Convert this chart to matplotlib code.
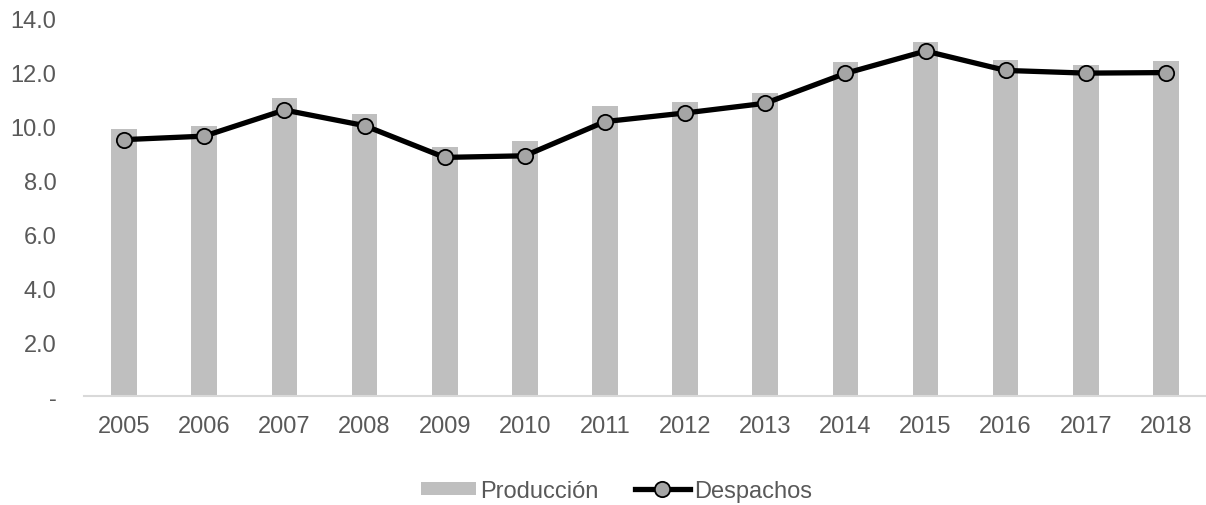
import matplotlib
matplotlib.use("Agg")
import matplotlib.pyplot as plt
from matplotlib.ticker import FuncFormatter

years = ["2005", "2006", "2007", "2008", "2009", "2010", "2011",
         "2012", "2013", "2014", "2015", "2016", "2017", "2018"]
produccion = [9.91, 10.03, 11.07, 10.46, 9.25, 9.48, 10.78,
              10.92, 11.24, 12.39, 13.16, 12.49, 12.30, 12.45]
despachos = [9.52, 9.65, 10.62, 10.04, 8.86, 8.92, 10.19,
             10.51, 10.87, 11.98, 12.81, 12.09, 11.99, 12.01]

plt.rcParams["font.family"] = ["Liberation Sans", "DejaVu Sans"]
text_color = "#595959"

fig = plt.figure(figsize=(12.06, 5.06), dpi=100)
ax = fig.add_axes([0.0697, 0.2154, 0.9303, 0.7451])

x = list(range(len(years)))
bars = ax.bar(x, produccion, width=0.32, color="#BFBFBF", label="Producción", zorder=2)
line, = ax.plot(x, despachos, color="black", linewidth=3.8, marker="o",
                markersize=11, markerfacecolor="#A5A5A5", markeredgecolor="black",
                markeredgewidth=1.3, label="Despachos", zorder=3)

ax.set_xlim(-0.5, len(years) - 0.5)
ax.set_ylim(0, 14)
ax.set_yticks([0, 2, 4, 6, 8, 10, 12, 14])
ax.yaxis.set_major_formatter(FuncFormatter(lambda v, p: "-" if v == 0 else f"{v:.1f}"))
ax.set_xticks(x)
ax.set_xticklabels(years)

for s in ["top", "right", "left"]:
    ax.spines[s].set_visible(False)
ax.spines["bottom"].set_color("#D9D9D9")
ax.spines["bottom"].set_linewidth(1.5)
ax.tick_params(axis="both", length=0, labelsize=17, labelcolor=text_color)
ax.tick_params(axis="x", pad=14)
ax.tick_params(axis="y", pad=20)

leg = fig.legend([bars, line], ["Producción", "Despachos"], loc="center",
                 bbox_to_anchor=(0.511, 0.028), ncol=2, frameon=False,
                 fontsize=17, handlelength=2.35, handleheight=0.5,
                 handletextpad=0.15, columnspacing=1.55)
for t in leg.get_texts():
    t.set_color(text_color)

fig.savefig("out.png", dpi=100)
